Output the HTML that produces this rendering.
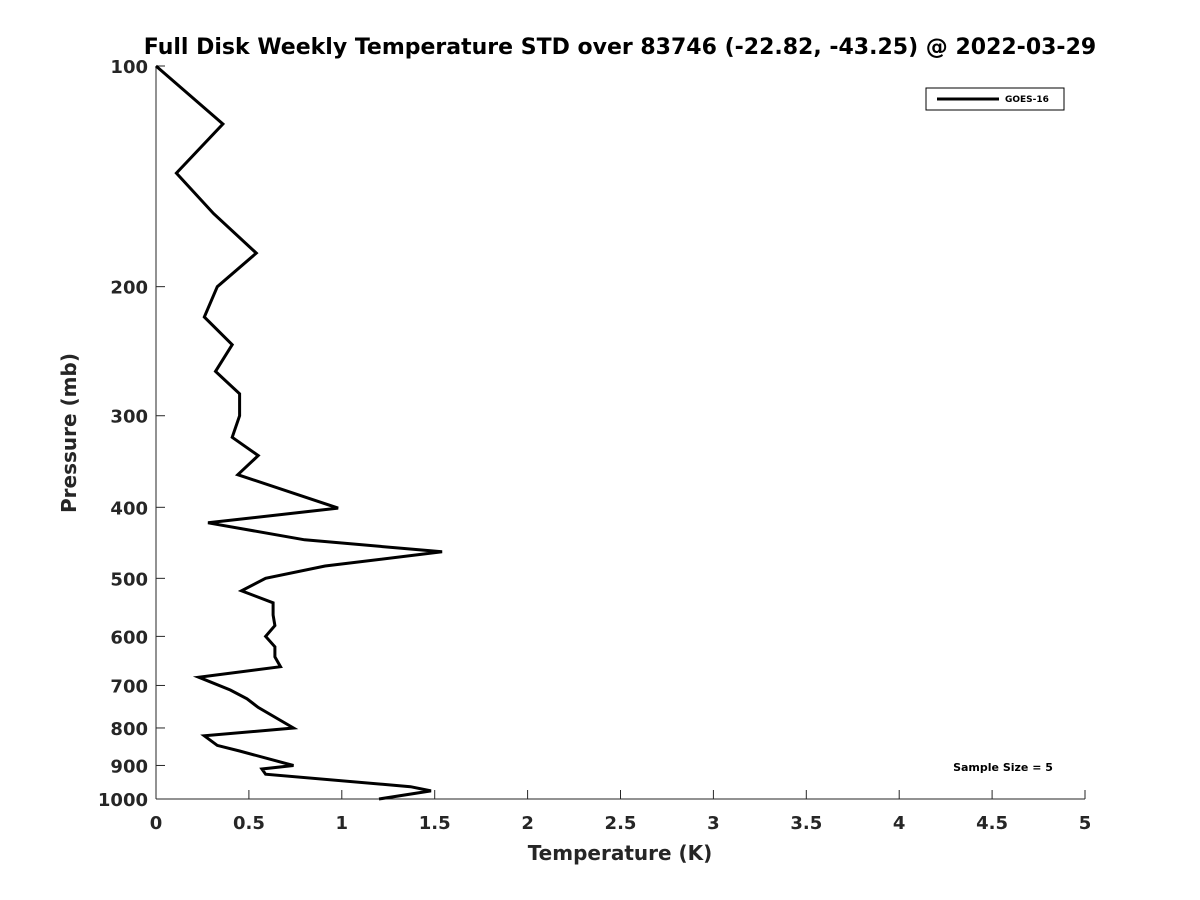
<!DOCTYPE html>
<html><head><meta charset="utf-8"><style>
body{margin:0;background:#fff;}
svg{display:block;font-family:"DejaVu Sans","Liberation Sans",sans-serif;}
</style></head><body>
<svg id="chart" width="1200" height="900">
<rect width="1200" height="900" fill="#fff"/>
<text x="620" y="54" text-anchor="middle" font-size="22" font-weight="bold">Full Disk Weekly Temperature STD over 83746 (-22.82, -43.25) @ 2022-03-29</text>
<g id="axes"></g>
<g id="series"></g>
<g>
<rect x="926" y="88" width="138" height="22" fill="#fff" stroke="#000" stroke-width="1"/>
<line x1="937" y1="99" x2="999" y2="99" stroke="#000" stroke-width="3"/>
<text x="1005" y="102" font-size="9" font-weight="bold">GOES-16</text>
</g>
<text x="1003" y="771" text-anchor="middle" font-size="11" font-weight="bold">Sample Size = 5</text>
<text x="620" y="860" text-anchor="middle" font-size="20" font-weight="bold" fill="#262626">Temperature (K)</text>
<text transform="translate(76,433) rotate(-90)" text-anchor="middle" font-size="20" font-weight="bold" fill="#262626">Pressure (mb)</text>
</svg>
<script>
const pressures=[100,120,140,159,180,200,220,240,261,280,300,321,340,361,401,420,443,460,481,500,520,540,561,580,600,620,640,660,682,710,730,750,800,820,845,860,900,910,925,962,975,1000];
const stdValues=[0,0.36,0.11,0.31,0.54,0.33,0.26,0.41,0.32,0.45,0.45,0.41,0.55,0.44,0.98,0.28,0.80,1.54,0.91,0.59,0.46,0.63,0.63,0.64,0.59,0.64,0.64,0.67,0.23,0.40,0.49,0.55,0.74,0.26,0.33,0.45,0.74,0.57,0.59,1.37,1.48,1.20];
const xTicks=[0,0.5,1,1.5,2,2.5,3,3.5,4,4.5,5];
const xTickLabels=["0","0.5","1","1.5","2","2.5","3","3.5","4","4.5","5"];
const yTicks=[100,200,300,400,500,600,700,800,900,1000];
const yTickLabels=["100","200","300","400","500","600","700","800","900","1000"];
const L=156,R=1085,T=66,B=799,xMin=0,xMax=5,pMin=100,pMax=1000;
function xs(v){return L+(v-xMin)/(xMax-xMin)*(R-L);}
function ys(p){return T+Math.log10(p/pMin)/Math.log10(pMax/pMin)*(B-T);}
const NS="http://www.w3.org/2000/svg";
const axes=document.getElementById('axes');
function mk(tag,attrs,parent){const e=document.createElementNS(NS,tag);for(const k in attrs)e.setAttribute(k,attrs[k]);parent.appendChild(e);return e;}
const xAxis=mk('line',{x1:L,y1:B,x2:R,y2:B,stroke:'#262626','stroke-width':1},axes);


const yAxis=mk('line',{x1:L,y1:T,x2:L,y2:B,stroke:'#262626','stroke-width':1},axes);


xTicks.forEach((v,i)=>{
  const x=xs(v);
  const t=mk('line',{x1:x,y1:B,x2:x,y2:B-9,stroke:'#262626','stroke-width':1},axes);
  
  
  const l=mk('text',{x:x,y:B+30,'text-anchor':'middle','font-size':18,'font-weight':'bold',fill:'#262626'},axes);
  l.textContent=xTickLabels[i];
  
  
});
yTicks.forEach((p,i)=>{
  const y=ys(p);
  const t=mk('line',{x1:L,y1:y,x2:L+9,y2:y,stroke:'#262626','stroke-width':1},axes);
  
  
  const l=mk('text',{x:L-8,y:y+7,'text-anchor':'end','font-size':18,'font-weight':'bold',fill:'#262626'},axes);
  l.textContent=yTickLabels[i];
  
  
});
const pts=pressures.map((p,i)=>xs(stdValues[i]).toFixed(1)+','+ys(p).toFixed(1)).join(' ');
const line=mk('polyline',{points:pts,fill:'none',stroke:'#000','stroke-width':3,'stroke-linejoin':'miter'},document.getElementById('series'));


</script>
</body></html>
